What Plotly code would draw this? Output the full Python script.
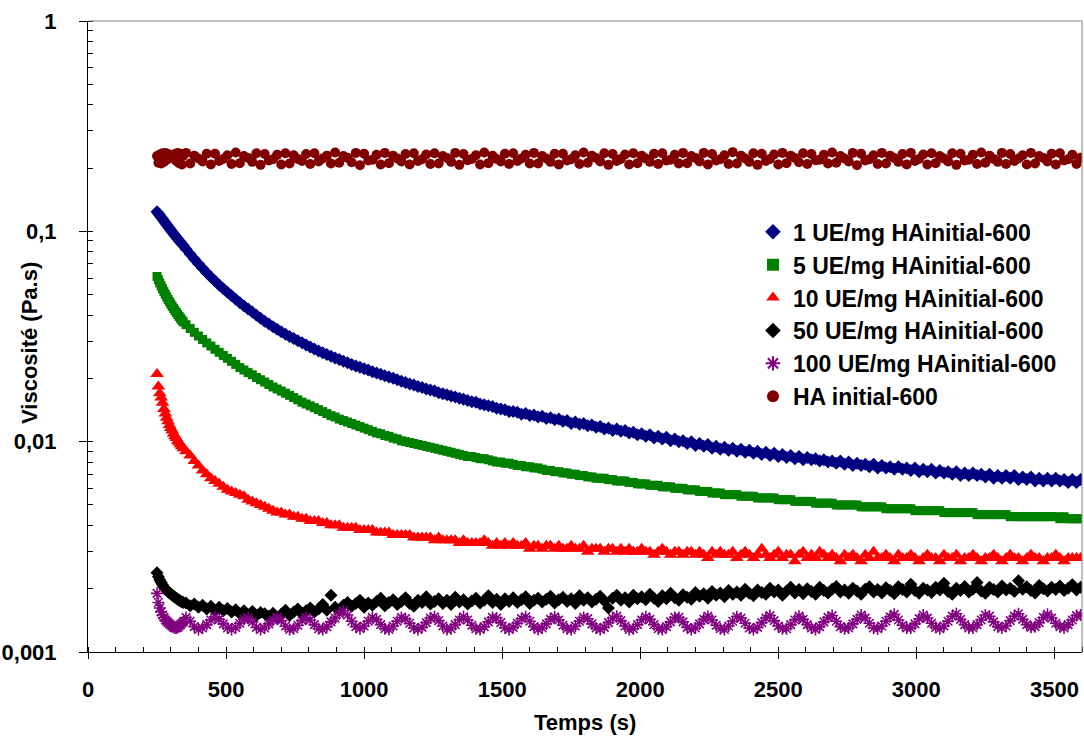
import plotly.graph_objects as go

# ---------------- data ----------------
time_s = [250, 255, 260, 265, 270, 275, 280, 285, 290, 295,
          300, 305, 310, 315, 320, 325, 330, 335, 340, 345,
          355, 370, 385, 400, 415, 430, 445, 460, 475, 490,
          505, 520, 535, 550, 565, 580, 595, 610, 625, 640,
          655, 670, 685, 700, 715, 730, 745, 760, 775, 790,
          805, 820, 835, 850, 865, 880, 895, 910, 925, 940,
          955, 970, 985, 1000, 1015, 1030, 1045, 1060, 1075, 1090,
          1105, 1120, 1135, 1150, 1165, 1180, 1195, 1210, 1225, 1240,
          1255, 1270, 1285, 1300, 1315, 1330, 1345, 1360, 1375, 1390,
          1405, 1420, 1435, 1450, 1465, 1480, 1495, 1510, 1525, 1540,
          1555, 1570, 1585, 1600, 1615, 1630, 1645, 1660, 1675, 1690,
          1705, 1720, 1735, 1750, 1765, 1780, 1795, 1810, 1825, 1840,
          1855, 1870, 1885, 1900, 1915, 1930, 1945, 1960, 1975, 1990,
          2005, 2020, 2035, 2050, 2065, 2080, 2095, 2110, 2125, 2140,
          2155, 2170, 2185, 2200, 2215, 2230, 2245, 2260, 2275, 2290,
          2305, 2320, 2335, 2350, 2365, 2380, 2395, 2410, 2425, 2440,
          2455, 2470, 2485, 2500, 2515, 2530, 2545, 2560, 2575, 2590,
          2605, 2620, 2635, 2650, 2665, 2680, 2695, 2710, 2725, 2740,
          2755, 2770, 2785, 2800, 2815, 2830, 2845, 2860, 2875, 2890,
          2905, 2920, 2935, 2950, 2965, 2980, 2995, 3010, 3025, 3040,
          3055, 3070, 3085, 3100, 3115, 3130, 3145, 3160, 3175, 3190,
          3205, 3220, 3235, 3250, 3265, 3280, 3295, 3310, 3325, 3340,
          3355, 3370, 3385, 3400, 3415, 3430, 3445, 3460, 3475, 3490,
          3505, 3520, 3535, 3550, 3565, 3580, 3595]

visc_1ue = [0.1240, 0.1215, 0.1190, 0.1166, 0.1143, 0.1120, 0.1098, 0.1076, 0.1055, 0.1034,
            0.1013, 0.0993, 0.0974, 0.0955, 0.0937, 0.0920, 0.0903, 0.0887, 0.0871, 0.0856,
            0.0825, 0.0780, 0.0739, 0.0701, 0.0667, 0.0635, 0.0606, 0.0580, 0.0556, 0.0534,
            0.0513, 0.0494, 0.0475, 0.0458, 0.0442, 0.0427, 0.0413, 0.0399, 0.0386, 0.0374,
            0.0363, 0.0352, 0.0342, 0.0333, 0.0324, 0.0316, 0.0309, 0.0302, 0.0295, 0.0288,
            0.0282, 0.0276, 0.0270, 0.0265, 0.0260, 0.0255, 0.0250, 0.0246, 0.0241, 0.0237,
            0.0233, 0.0229, 0.0226, 0.0222, 0.0219, 0.0215, 0.0212, 0.0209, 0.0206, 0.0203,
            0.0200, 0.0197, 0.0194, 0.0191, 0.0188, 0.0186, 0.0183, 0.0181, 0.0178, 0.0176,
            0.0174, 0.0171, 0.0169, 0.0167, 0.0165, 0.0163, 0.0161, 0.0159, 0.0157, 0.0155,
            0.0154, 0.0151, 0.0150, 0.0148, 0.0147, 0.0144, 0.0143, 0.0142, 0.0139, 0.0139,
            0.0138, 0.0135, 0.0136, 0.0133, 0.0134, 0.0131, 0.0132, 0.0129, 0.0130, 0.0127,
            0.0128, 0.0125, 0.0126, 0.0122, 0.0124, 0.0121, 0.0122, 0.0119, 0.0120, 0.0117,
            0.0118, 0.0115, 0.0116, 0.0113, 0.0115, 0.0112, 0.0113, 0.0110, 0.0111, 0.0108,
            0.0109, 0.0106, 0.0108, 0.0104, 0.0106, 0.0103, 0.0105, 0.0101, 0.0103, 0.0100,
            0.0101, 0.0098, 0.0100, 0.0096, 0.0098, 0.0095, 0.0097, 0.0093, 0.0095, 0.0092,
            0.0094, 0.0091, 0.0093, 0.0090, 0.0092, 0.0089, 0.0091, 0.0088, 0.0090, 0.0087,
            0.0089, 0.0086, 0.0088, 0.0085, 0.0087, 0.0084, 0.0086, 0.0083, 0.0085, 0.0082,
            0.0084, 0.0082, 0.0083, 0.0081, 0.0082, 0.0080, 0.0081, 0.0079, 0.0081, 0.0078,
            0.0080, 0.0077, 0.0079, 0.0077, 0.0078, 0.0076, 0.0078, 0.0075, 0.0077, 0.0075,
            0.0076, 0.0074, 0.0076, 0.0074, 0.0075, 0.0073, 0.0075, 0.0072, 0.0074, 0.0072,
            0.0074, 0.0071, 0.0073, 0.0071, 0.0072, 0.0070, 0.0072, 0.0069, 0.0071, 0.0069,
            0.0071, 0.0069, 0.0070, 0.0068, 0.0070, 0.0067, 0.0069, 0.0067, 0.0069, 0.0067,
            0.0069, 0.0066, 0.0068, 0.0066, 0.0068, 0.0065, 0.0067, 0.0065, 0.0067, 0.0065,
            0.0067, 0.0065, 0.0066, 0.0064, 0.0066, 0.0064, 0.0066]

visc_5ue = [0.0610, 0.0588, 0.0568, 0.0550, 0.0533, 0.0517, 0.0502, 0.0488, 0.0475, 0.0463,
            0.0451, 0.0440, 0.0430, 0.0420, 0.0411, 0.0402, 0.0394, 0.0386, 0.0378, 0.0371,
            0.0360, 0.0345, 0.0331, 0.0318, 0.0306, 0.0295, 0.0285, 0.0275, 0.0266, 0.0257,
            0.0249, 0.0241, 0.0233, 0.0225, 0.0219, 0.0213, 0.0208, 0.0202, 0.0197, 0.0192,
            0.0187, 0.0182, 0.0178, 0.0174, 0.0170, 0.0166, 0.0162, 0.0158, 0.0154, 0.0151,
            0.0148, 0.0145, 0.0142, 0.0139, 0.0136, 0.0133, 0.0131, 0.0128, 0.0126, 0.0124,
            0.0122, 0.0120, 0.0118, 0.0116, 0.0114, 0.0112, 0.0110, 0.0109, 0.0107, 0.0106,
            0.0104, 0.0103, 0.0101, 0.0100, 0.0099, 0.0098, 0.0097, 0.0096, 0.0095, 0.0094,
            0.0093, 0.0092, 0.0091, 0.0090, 0.0089, 0.0088, 0.0087, 0.0086, 0.0085, 0.0085,
            0.0084, 0.0083, 0.0083, 0.0082, 0.0081, 0.0080, 0.0080, 0.0079, 0.0079, 0.0078,
            0.0077, 0.0077, 0.0076, 0.0076, 0.0075, 0.0075, 0.0074, 0.0073, 0.0073, 0.0072,
            0.0072, 0.0071, 0.0071, 0.0070, 0.0070, 0.0069, 0.0069, 0.0068, 0.0068, 0.0067,
            0.0067, 0.0067, 0.0066, 0.0066, 0.0065, 0.0065, 0.0065, 0.0064, 0.0064, 0.0063,
            0.0063, 0.0063, 0.0062, 0.0062, 0.0062, 0.0061, 0.0061, 0.0061, 0.0060, 0.0060,
            0.0060, 0.0059, 0.0059, 0.0059, 0.0058, 0.0058, 0.0058, 0.0057, 0.0057, 0.0057,
            0.0056, 0.0056, 0.0056, 0.0056, 0.0055, 0.0055, 0.0055, 0.0055, 0.0054, 0.0054,
            0.0054, 0.0054, 0.0054, 0.0053, 0.0053, 0.0053, 0.0053, 0.0052, 0.0052, 0.0052,
            0.0052, 0.0052, 0.0051, 0.0051, 0.0051, 0.0051, 0.0051, 0.0050, 0.0050, 0.0050,
            0.0050, 0.0050, 0.0050, 0.0049, 0.0049, 0.0049, 0.0049, 0.0049, 0.0049, 0.0048,
            0.0048, 0.0048, 0.0048, 0.0048, 0.0048, 0.0048, 0.0047, 0.0047, 0.0047, 0.0047,
            0.0047, 0.0047, 0.0047, 0.0046, 0.0046, 0.0046, 0.0046, 0.0046, 0.0046, 0.0046,
            0.0046, 0.0045, 0.0045, 0.0045, 0.0045, 0.0045, 0.0045, 0.0045, 0.0045, 0.0044,
            0.0044, 0.0044, 0.0044, 0.0044, 0.0044, 0.0044, 0.0044, 0.0044, 0.0044, 0.0044,
            0.0044, 0.0043, 0.0044, 0.0043, 0.0043, 0.0043, 0.0043]

visc_10ue = [0.0210, 0.0183, 0.0170, 0.0162, 0.0153, 0.0143, 0.0136, 0.0130, 0.0125, 0.0120,
             0.0116, 0.0113, 0.0109, 0.0106, 0.0104, 0.0101, 0.0099, 0.0097, 0.0095, 0.0093,
             0.0090, 0.0086, 0.0081, 0.0077, 0.0073, 0.0070, 0.0067, 0.0065, 0.0063, 0.0061,
             0.0059, 0.0058, 0.0057, 0.0056, 0.0055, 0.0053, 0.0052, 0.0051, 0.0050, 0.0049,
             0.0048, 0.0047, 0.0046, 0.0046, 0.0045, 0.0045, 0.0044, 0.0044, 0.0043, 0.0043,
             0.0042, 0.0042, 0.0042, 0.0041, 0.0041, 0.0040, 0.0040, 0.0040, 0.0039, 0.0039,
             0.0039, 0.0039, 0.0038, 0.0038, 0.0038, 0.0038, 0.0037, 0.0037, 0.0037, 0.0037,
             0.0036, 0.0036, 0.0036, 0.0036, 0.0036, 0.0035, 0.0035, 0.0035, 0.0035, 0.0035,
             0.0034, 0.0035, 0.0034, 0.0034, 0.0034, 0.0034, 0.0033, 0.0034, 0.0033, 0.0033,
             0.0033, 0.0033, 0.0034, 0.0033, 0.0032, 0.0033, 0.0032, 0.0033, 0.0032, 0.0033,
             0.0032, 0.0032, 0.0033, 0.0031, 0.0032, 0.0032, 0.0031, 0.0032, 0.0032, 0.0031,
             0.0032, 0.0031, 0.0031, 0.0032, 0.0031, 0.0031, 0.0032, 0.0030, 0.0031, 0.0031,
             0.0031, 0.0030, 0.0031, 0.0031, 0.0030, 0.0031, 0.0030, 0.0031, 0.0030, 0.0030,
             0.0031, 0.0030, 0.0030, 0.0029, 0.0030, 0.0031, 0.0030, 0.0029, 0.0030, 0.0030,
             0.0029, 0.0030, 0.0030, 0.0029, 0.0030, 0.0029, 0.0028, 0.0030, 0.0029, 0.0030,
             0.0029, 0.0029, 0.0030, 0.0028, 0.0029, 0.0030, 0.0029, 0.0028, 0.0029, 0.0031,
             0.0029, 0.0028, 0.0029, 0.0030, 0.0028, 0.0029, 0.0029, 0.0027, 0.0029, 0.0030,
             0.0028, 0.0029, 0.0028, 0.0030, 0.0029, 0.0028, 0.0029, 0.0028, 0.0027, 0.0029,
             0.0028, 0.0029, 0.0028, 0.0027, 0.0029, 0.0028, 0.0030, 0.0028, 0.0028, 0.0029,
             0.0028, 0.0027, 0.0029, 0.0028, 0.0028, 0.0029, 0.0028, 0.0027, 0.0028, 0.0029,
             0.0028, 0.0028, 0.0027, 0.0029, 0.0028, 0.0028, 0.0029, 0.0027, 0.0028, 0.0028,
             0.0029, 0.0028, 0.0027, 0.0028, 0.0028, 0.0029, 0.0028, 0.0027, 0.0028, 0.0029,
             0.0028, 0.0028, 0.0027, 0.0028, 0.0029, 0.0028, 0.0028, 0.0027, 0.0028, 0.0028,
             0.0029, 0.0028, 0.0027, 0.0028, 0.0028, 0.0028, 0.0028]

visc_50ue = [0.00238, 0.00228, 0.00220, 0.00214, 0.00208, 0.00203, 0.00199, 0.00196, 0.00193, 0.00191,
             0.00189, 0.00186, 0.00184, 0.00182, 0.00180, 0.00178, 0.00176, 0.00175, 0.00173, 0.00172,
             0.00171, 0.00166, 0.00169, 0.00163, 0.00167, 0.00160, 0.00165, 0.00158, 0.00163, 0.00157,
             0.00161, 0.00155, 0.00159, 0.00152, 0.00157, 0.00150, 0.00156, 0.00149, 0.00154, 0.00152,
             0.00148, 0.00153, 0.00146, 0.00151, 0.00158, 0.00149, 0.00155, 0.00160, 0.00152, 0.00157,
             0.00162, 0.00155, 0.00160, 0.00168, 0.00158, 0.00186, 0.00163, 0.00158, 0.00167, 0.00172,
             0.00165, 0.00170, 0.00176, 0.00163, 0.00171, 0.00167, 0.00174, 0.00180, 0.00166, 0.00172,
             0.00177, 0.00168, 0.00174, 0.00181, 0.00170, 0.00165, 0.00176, 0.00172, 0.00183, 0.00169,
             0.00174, 0.00179, 0.00170, 0.00176, 0.00168, 0.00182, 0.00173, 0.00177, 0.00169, 0.00175,
             0.00180, 0.00171, 0.00176, 0.00185, 0.00172, 0.00178, 0.00168, 0.00179, 0.00174, 0.00181,
             0.00172, 0.00177, 0.00183, 0.00170, 0.00176, 0.00180, 0.00173, 0.00178, 0.00184, 0.00171,
             0.00177, 0.00182, 0.00174, 0.00179, 0.00170, 0.00185, 0.00176, 0.00181, 0.00173, 0.00178,
             0.00184, 0.00175, 0.00162, 0.00180, 0.00186, 0.00176, 0.00181, 0.00173, 0.00186, 0.00179,
             0.00183, 0.00177, 0.00188, 0.00180, 0.00174, 0.00185, 0.00179, 0.00190, 0.00181, 0.00176,
             0.00187, 0.00182, 0.00178, 0.00192, 0.00184, 0.00189, 0.00180, 0.00194, 0.00186, 0.00191,
             0.00183, 0.00196, 0.00188, 0.00193, 0.00186, 0.00199, 0.00190, 0.00185, 0.00197, 0.00192,
             0.00188, 0.00201, 0.00193, 0.00197, 0.00186, 0.00195, 0.00203, 0.00191, 0.00198, 0.00189,
             0.00200, 0.00194, 0.00188, 0.00203, 0.00196, 0.00191, 0.00199, 0.00205, 0.00193, 0.00197,
             0.00190, 0.00201, 0.00195, 0.00188, 0.00199, 0.00204, 0.00193, 0.00198, 0.00191, 0.00202,
             0.00196, 0.00189, 0.00204, 0.00198, 0.00193, 0.00210, 0.00196, 0.00190, 0.00201, 0.00197,
             0.00192, 0.00203, 0.00197, 0.00212, 0.00194, 0.00188, 0.00201, 0.00196, 0.00205, 0.00193,
             0.00199, 0.00214, 0.00195, 0.00190, 0.00203, 0.00198, 0.00193, 0.00206, 0.00197, 0.00201,
             0.00194, 0.00218, 0.00199, 0.00204, 0.00196, 0.00191, 0.00207, 0.00200, 0.00195, 0.00203,
             0.00198, 0.00206, 0.00196, 0.00201, 0.00209, 0.00197, 0.00203]

visc_100ue = [0.00190, 0.00172, 0.00162, 0.00155, 0.00150, 0.00146, 0.00142, 0.00140, 0.00138, 0.00136,
              0.00134, 0.00133, 0.00131, 0.00130, 0.00130, 0.00131, 0.00133, 0.00135, 0.00137, 0.00139,
              0.00146, 0.00140, 0.00132, 0.00128, 0.00130, 0.00135, 0.00142, 0.00147, 0.00143, 0.00136,
              0.00130, 0.00128, 0.00131, 0.00137, 0.00143, 0.00145, 0.00139, 0.00131, 0.00128, 0.00130,
              0.00136, 0.00142, 0.00146, 0.00141, 0.00133, 0.00128, 0.00129, 0.00134, 0.00141, 0.00146,
              0.00142, 0.00135, 0.00129, 0.00128, 0.00132, 0.00139, 0.00145, 0.00152, 0.00157, 0.00150,
              0.00140, 0.00132, 0.00129, 0.00133, 0.00140, 0.00146, 0.00143, 0.00135, 0.00129, 0.00128,
              0.00133, 0.00140, 0.00146, 0.00144, 0.00137, 0.00130, 0.00128, 0.00131, 0.00138, 0.00145,
              0.00147, 0.00141, 0.00133, 0.00128, 0.00129, 0.00135, 0.00142, 0.00147, 0.00142, 0.00134,
              0.00129, 0.00128, 0.00132, 0.00139, 0.00146, 0.00145, 0.00138, 0.00130, 0.00128, 0.00131,
              0.00137, 0.00144, 0.00147, 0.00140, 0.00132, 0.00128, 0.00130, 0.00136, 0.00143, 0.00147,
              0.00142, 0.00134, 0.00129, 0.00128, 0.00133, 0.00140, 0.00146, 0.00144, 0.00136, 0.00130,
              0.00128, 0.00131, 0.00138, 0.00145, 0.00148, 0.00141, 0.00133, 0.00128, 0.00129, 0.00135,
              0.00142, 0.00147, 0.00143, 0.00135, 0.00129, 0.00128, 0.00132, 0.00139, 0.00146, 0.00146,
              0.00139, 0.00131, 0.00128, 0.00130, 0.00136, 0.00143, 0.00148, 0.00142, 0.00134, 0.00129,
              0.00128, 0.00133, 0.00140, 0.00147, 0.00145, 0.00137, 0.00130, 0.00128, 0.00131, 0.00138,
              0.00145, 0.00149, 0.00141, 0.00133, 0.00129, 0.00129, 0.00135, 0.00142, 0.00148, 0.00143,
              0.00135, 0.00130, 0.00128, 0.00132, 0.00139, 0.00146, 0.00149, 0.00140, 0.00132, 0.00129,
              0.00130, 0.00136, 0.00143, 0.00150, 0.00145, 0.00137, 0.00130, 0.00129, 0.00133, 0.00140,
              0.00147, 0.00151, 0.00142, 0.00134, 0.00130, 0.00130, 0.00136, 0.00144, 0.00150, 0.00145,
              0.00137, 0.00131, 0.00129, 0.00133, 0.00140, 0.00148, 0.00152, 0.00143, 0.00135, 0.00130,
              0.00130, 0.00135, 0.00142, 0.00150, 0.00148, 0.00139, 0.00132, 0.00130, 0.00133, 0.00141,
              0.00148, 0.00152, 0.00143, 0.00135, 0.00131, 0.00132, 0.00138, 0.00146, 0.00151, 0.00145,
              0.00137, 0.00132, 0.00130, 0.00135, 0.00142, 0.00149, 0.00150]

visc_ha = [0.228, 0.212, 0.232, 0.210, 0.235, 0.214, 0.236, 0.219, 0.233, 0.224,
           0.229, 0.229, 0.222, 0.233, 0.216, 0.236, 0.211, 0.234, 0.208, 0.229,
           0.236, 0.210, 0.229, 0.222, 0.215, 0.234, 0.208, 0.234, 0.216, 0.221,
           0.230, 0.209, 0.237, 0.211, 0.228, 0.223, 0.214, 0.235, 0.207, 0.233,
           0.217, 0.220, 0.231, 0.208, 0.235, 0.210, 0.230, 0.221, 0.216, 0.233,
           0.209, 0.235, 0.215, 0.222, 0.229, 0.210, 0.237, 0.212, 0.228, 0.224,
           0.213, 0.236, 0.206, 0.234, 0.217, 0.219, 0.231, 0.208, 0.236, 0.211,
           0.229, 0.222, 0.215, 0.233, 0.208, 0.235, 0.216, 0.220, 0.232, 0.209,
           0.235, 0.210, 0.228, 0.223, 0.214, 0.236, 0.207, 0.233, 0.218, 0.221,
           0.230, 0.208, 0.237, 0.211, 0.229, 0.221, 0.215, 0.234, 0.209, 0.235,
           0.216, 0.222, 0.231, 0.210, 0.236, 0.210, 0.228, 0.222, 0.214, 0.234,
           0.208, 0.234, 0.217, 0.220, 0.230, 0.209, 0.237, 0.212, 0.229, 0.223,
           0.215, 0.235, 0.207, 0.233, 0.216, 0.221, 0.232, 0.208, 0.235, 0.211,
           0.229, 0.222, 0.214, 0.234, 0.209, 0.235, 0.217, 0.219, 0.231, 0.210,
           0.236, 0.211, 0.228, 0.223, 0.215, 0.236, 0.208, 0.233, 0.217, 0.220,
           0.230, 0.209, 0.238, 0.210, 0.229, 0.222, 0.214, 0.235, 0.207, 0.234,
           0.216, 0.221, 0.232, 0.208, 0.236, 0.211, 0.229, 0.223, 0.213, 0.235,
           0.209, 0.233, 0.218, 0.219, 0.231, 0.210, 0.237, 0.212, 0.228, 0.222,
           0.215, 0.236, 0.206, 0.234, 0.217, 0.220, 0.230, 0.209, 0.236, 0.210,
           0.229, 0.223, 0.214, 0.233, 0.208, 0.236, 0.216, 0.221, 0.232, 0.208,
           0.235, 0.211, 0.228, 0.222, 0.215, 0.235, 0.207, 0.234, 0.217, 0.219,
           0.231, 0.209, 0.237, 0.212, 0.229, 0.221, 0.214, 0.236, 0.209, 0.233,
           0.216, 0.222, 0.230, 0.208, 0.236, 0.210, 0.228, 0.223, 0.215, 0.234,
           0.208, 0.235, 0.217, 0.220, 0.231, 0.209, 0.224]

series_names = ["1 UE/mg HAinitial-600", "5 UE/mg HAinitial-600", "10 UE/mg HAinitial-600",
                "50 UE/mg HAinitial-600", "100 UE/mg HAinitial-600", "HA initial-600"]
series_values = [visc_1ue, visc_5ue, visc_10ue, visc_50ue, visc_100ue, visc_ha]

y_tick_vals = [0.001, 0.01, 0.1, 1]
y_tick_text = ["0,001", "0,01", "0,1", "1"]
x_title = "Temps (s)"
y_title = "Viscosité (Pa.s)"

# ---------------- styles ----------------
styles = [
    dict(symbol="diamond", size=10, color="#000080"),
    dict(symbol="square", size=9, color="#008000"),
    dict(symbol="triangle-up", size=12, color="#FF0000"),
    dict(symbol="diamond", size=10, color="#000000"),
    dict(symbol="asterisk-open", size=10, color="#800080", line=dict(width=1.6, color="#800080")),
    dict(symbol="circle", size=10, color="#800000"),
]

FONT = "Liberation Sans, Arial, sans-serif"

fig = go.Figure()
for name, vals, st in zip(series_names, series_values, styles):
    n = min(len(time_s), len(vals))
    marker = dict(symbol=st["symbol"], size=st["size"], color=st["color"])
    marker["line"] = st.get("line", dict(width=0))
    fig.add_trace(go.Scatter(x=time_s[:n], y=vals[:n], mode="markers", name=name, marker=marker))

fig.update_layout(
    width=1084, height=738,
    margin=dict(l=86, r=2, t=21, b=86),
    paper_bgcolor="white", plot_bgcolor="white",
    font=dict(family=FONT, size=22, color="black", weight="bold"),
    showlegend=True,
    legend=dict(x=0.669, y=0.700, xanchor="left", yanchor="top",
                bgcolor="rgba(0,0,0,0)", borderwidth=0,
                font=dict(family=FONT, size=23, color="black", weight="bold"),
                itemwidth=30, itemsizing="constant"),
    xaxis=dict(range=[0, 3600], dtick=500, tick0=0, showgrid=False, zeroline=False,
               showline=True, linecolor="black", linewidth=1,
               ticks="outside", ticklen=6, tickcolor="black", tickwidth=1,
               ticklabelstandoff=12,
               minor=dict(dtick=100, ticks="inside", ticklen=5, tickcolor="black", showgrid=False),
               tickfont=dict(family=FONT, size=22, color="black", weight="bold")),
    yaxis=dict(type="log", range=[-3, 0], tickmode="array", tickvals=y_tick_vals, ticktext=y_tick_text,
               showgrid=False, zeroline=False,
               showline=True, linecolor="black", linewidth=1,
               ticks="outside", ticklen=8, tickcolor="black", tickwidth=1,
               ticklabelstandoff=18,
               minor=dict(dtick="D1", ticks="inside", ticklen=5, tickcolor="black", showgrid=False),
               tickfont=dict(family=FONT, size=22, color="black", weight="bold")),
    annotations=[
        dict(text=x_title, xref="paper", yref="paper", x=0.5, y=-0.111,
             xanchor="center", yanchor="middle", showarrow=False,
             font=dict(family=FONT, size=22, color="black", weight="bold")),
        dict(text=y_title, xref="paper", yref="paper", x=-0.0582, y=0.49,
             xanchor="center", yanchor="middle", textangle=-90, showarrow=False,
             font=dict(family=FONT, size=22, color="black", weight="bold")),
    ],
    shapes=[
        dict(type="line", xref="paper", yref="paper", x0=0, x1=1, y0=1, y1=1,
             line=dict(color="#808080", width=1)),
        dict(type="line", xref="paper", yref="paper", x0=1, x1=1, y0=0, y1=1,
             line=dict(color="#808080", width=1)),
    ],
)

fig.write_html("out.html",
               config={"displayModeBar": False},
               post_script="document.body.style.margin='0px';document.body.style.overflow='hidden';")
